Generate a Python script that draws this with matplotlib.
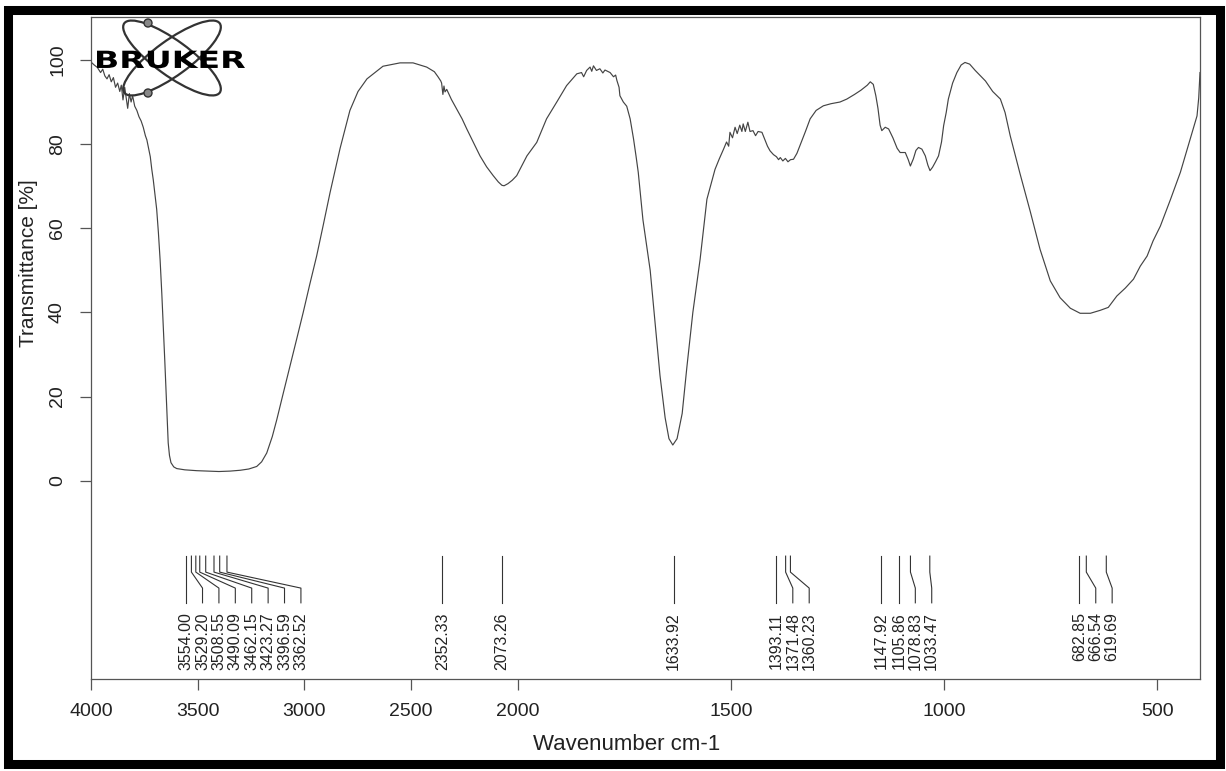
import numpy as np
import matplotlib.pyplot as plt
from matplotlib.patches import Ellipse, Circle, PathPatch, Rectangle
from matplotlib.textpath import TextPath
from matplotlib.font_manager import FontProperties
from matplotlib.transforms import Affine2D

plt.rcParams['font.family'] = ['Liberation Sans', 'DejaVu Sans']

# spectrum (cm-1, %T)
wavenumber = [4000, 3985, 3970, 3955, 3945, 3935, 3925, 3915, 3905, 3895, 3885, 3875, 3865, 3858,
              3850, 3842, 3835, 3828, 3820, 3812, 3805, 3795, 3785, 3775, 3765, 3755, 3745, 3738,
              3730, 3722, 3715, 3708, 3700, 3692, 3684, 3676, 3668, 3661, 3654, 3648, 3643, 3638,
              3632, 3625, 3612, 3598, 3560, 3504, 3450, 3400, 3348, 3300, 3260, 3223, 3200, 3176,
              3150, 3129, 3100, 3067, 3035, 3005, 2975, 2942, 2910, 2879, 2832, 2786, 2748, 2706,
              2631, 2551, 2490, 2426, 2390, 2373, 2360, 2356, 2350, 2345, 2340, 2332, 2310, 2285,
              2260, 2238, 2205, 2176, 2145, 2114, 2090, 2073, 2063, 2045, 2025, 2004, 1978, 1955,
              1932, 1908, 1885, 1861, 1850, 1845, 1838, 1830, 1826, 1822, 1815, 1807, 1800, 1795,
              1783, 1775, 1770, 1767, 1762, 1760, 1752, 1744, 1736, 1728, 1722, 1717, 1706, 1689,
              1678, 1666, 1654, 1645, 1636, 1626, 1614, 1603, 1589, 1572, 1556, 1545, 1537, 1527,
              1517, 1510, 1505, 1502, 1496, 1490, 1485, 1479, 1474, 1471, 1466, 1460, 1455, 1448,
              1442, 1436, 1427, 1420, 1414, 1408, 1400, 1393, 1388, 1384, 1378, 1372, 1366, 1360,
              1353, 1345, 1338, 1325, 1314, 1300, 1283, 1265, 1244, 1228, 1210, 1195, 1180, 1173,
              1166, 1160, 1155, 1150, 1146, 1138, 1130, 1120, 1110, 1103, 1091, 1084, 1079, 1072,
              1066, 1060, 1052, 1044, 1038, 1033, 1027, 1020, 1013, 1006, 1001, 995, 990, 980,
              970, 960, 951, 940, 927, 903, 886, 868, 857, 845, 822, 798, 775, 751,
              728, 704, 681, 657, 634, 615, 595, 575, 556, 540, 524, 510, 493, 469,
              446, 423, 407, 403, 400]
transmittance = [99.5, 98.8, 98.2, 97.0, 97.8, 96.2, 95.5, 96.5, 94.8, 95.8, 93.5, 94.5, 92.5, 94.0,
                 90.5, 93.5, 91.0, 88.5, 92.0, 90.0, 91.5, 89.0, 88.0, 86.5, 85.5, 84.0, 82.0, 81.0,
                 79.0, 77.0, 74.0, 71.5, 68.0, 64.5, 59.0, 52.5, 44.5, 36.5, 28.5, 21.0, 14.5, 9.0,
                 6.0, 4.3, 3.3, 2.9, 2.6, 2.4, 2.3, 2.2, 2.3, 2.5, 2.8, 3.4, 4.5, 6.6,
                 10.5, 14.5, 20.5, 27.2, 33.8, 40.0, 46.5, 53.4, 61.0, 68.5, 79.0, 88.0, 92.5, 95.5,
                 98.5, 99.3, 99.3, 98.3, 97.2, 96.0, 95.0, 94.5, 91.8, 93.8, 92.4, 93.0, 90.6, 88.3,
                 86.0, 83.6, 80.2, 77.2, 74.6, 72.5, 71.0, 70.2, 70.1, 70.6, 71.4, 72.5, 77.2, 80.4,
                 86.0, 90.0, 93.9, 96.7, 97.0, 96.0, 97.5, 98.3, 97.3, 98.6, 97.5, 97.9, 96.9, 97.6,
                 97.0, 96.0, 96.4, 95.1, 93.5, 91.5, 90.0, 89.0, 86.0, 81.2, 77.0, 73.3, 62.0, 50.0,
                 38.0, 25.0, 15.0, 10.0, 8.5, 10.0, 16.0, 27.0, 40.0, 52.6, 66.9, 71.0, 74.0, 76.5,
                 78.8, 80.5, 79.5, 82.8, 81.5, 84.0, 82.5, 84.5, 83.0, 84.8, 83.0, 85.2, 83.0, 83.2,
                 82.0, 83.0, 82.8, 81.0, 79.5, 78.4, 77.5, 77.0, 76.3, 76.8, 76.0, 76.6, 75.8, 76.3,
                 76.4, 77.8, 79.6, 83.0, 86.0, 88.0, 89.1, 89.6, 90.0, 90.7, 91.8, 92.8, 94.0, 94.8,
                 94.2, 91.5, 88.5, 84.5, 83.2, 84.0, 83.6, 81.5, 79.0, 78.0, 78.0, 76.3, 74.8, 76.5,
                 78.5, 79.2, 78.8, 77.2, 75.0, 73.7, 74.5, 75.8, 77.2, 80.5, 84.4, 87.5, 90.7, 94.5,
                 97.0, 98.8, 99.4, 99.0, 97.5, 95.0, 92.5, 90.7, 87.5, 82.0, 73.0, 64.0, 55.0, 47.5,
                 43.5, 41.0, 39.8, 39.8, 40.5, 41.2, 43.9, 45.8, 47.9, 51.0, 53.4, 57.0, 60.5, 66.9,
                 73.3, 81.2, 86.7, 91.0, 97.0]

peak_labels = ['3554.00', '3529.20', '3508.55', '3490.09', '3462.15', '3423.27', '3396.59',
               '3362.52', '2352.33', '2073.26', '1633.92', '1393.11', '1371.48', '1360.23',
               '1147.92', '1105.86', '1078.83', '1033.47', '682.85', '666.54', '619.69']

x_ticks = [4000, 3500, 3000, 2500, 2000, 1500, 1000, 500]
y_ticks = [0, 20, 40, 60, 80, 100]


# OPUS style axis: 4000-2000 drawn at half scale
def fwd(w):
    w = np.asarray(w, dtype=float)
    return np.where(w > 2000, 2000 + (w - 2000) / 2, w)


def inv(u):
    u = np.asarray(u, dtype=float)
    return np.where(u > 2000, 2000 + (u - 2000) * 2, u)


W, H = 1226, 771
fig = plt.figure(figsize=(W / 100, H / 100), dpi=100)
ax = fig.add_axes([91 / W, 1 - 679 / H, 1109 / W, 662 / H])
ax.set_xscale('function', functions=(fwd, inv))
ax.plot(wavenumber, transmittance, color='#444444', lw=0.85)
ax.set_xlim(4000, 400)
ax.set_ylim(-47.1, 110.2)
ax.set_xticks(x_ticks)
ax.set_xticklabels([str(t) for t in x_ticks])
ax.set_yticks(y_ticks)
ax.minorticks_off()

for s in ax.spines.values():
    s.set_color('#555555')
    s.set_linewidth(0.9)
ax.tick_params(direction='out', length=8, width=0.9, color='#555555',
               labelsize=14, labelcolor='#222222')
ax.tick_params(axis='x', pad=9.5)
ax.tick_params(axis='y', labelrotation=90, pad=10)
for lab in ax.get_yticklabels():
    lab.set_va('center')

ax.set_xlabel('Wavenumber cm-1', fontsize=16, color='#222222')
ax.xaxis.label.set_va('center')
ax.xaxis.set_label_coords((627 - 91) / 1109, (679 - 745) / 662)
ax.set_ylabel('Transmittance [%]', fontsize=15, color='#222222')
ax.yaxis.label.set_va('center')
ax.yaxis.set_label_coords((29 - 91) / 1109, (679 - 263) / 662)

# peak picks: labels pushed apart when too close
peaks = np.array([float(s) for s in peak_labels])
lab_u = fwd(peaks)
gap = 38.45
for i in range(1, len(lab_u)):
    lab_u[i] = min(lab_u[i], lab_u[i - 1] - gap)
lab_w = inv(lab_u)
for p, lw_, txt in zip(peaks, lab_w, peak_labels):
    ax.plot([p, p, lw_, lw_], [-17.9, -21.7, -25.5, -29.0], color='#333333', lw=0.8)
    ax.text(lw_, -31.2, txt, rotation=90, ha='center', va='top', fontsize=11.5, color='#222222')

# overlay in pixel units for the page frame and the logo
ov = fig.add_axes([0, 0, 1, 1], zorder=5)
ov.set_xlim(0, W)
ov.set_ylim(H, 0)
ov.axis('off')
ov.patch.set_alpha(0)
ov.add_patch(Rectangle((7.5, 10), 1212.5, 754, fill=False, ec='black', lw=6.5))

for ang in (36, -36):
    ov.add_patch(Ellipse((172, 58), 118, 35, angle=ang, fill=False, ec='#333333', lw=1.6))
for cy in (23, 93):
    ov.add_patch(Circle((148, cy), 4, fc='#888888', ec='#333333', lw=1))

tp = TextPath((0, 0), 'BRUKER', size=20, prop=FontProperties(family='DejaVu Sans', weight='bold'))
bb = tp.get_extents()
tr = Affine2D().translate(-bb.x0, -bb.y0).scale(148 / bb.width, -17.6 / bb.height).translate(97, 68.3)
ov.add_patch(PathPatch(tp, transform=tr + ov.transData, fc='black', ec='none'))

fig.savefig('out.png', dpi=100)
